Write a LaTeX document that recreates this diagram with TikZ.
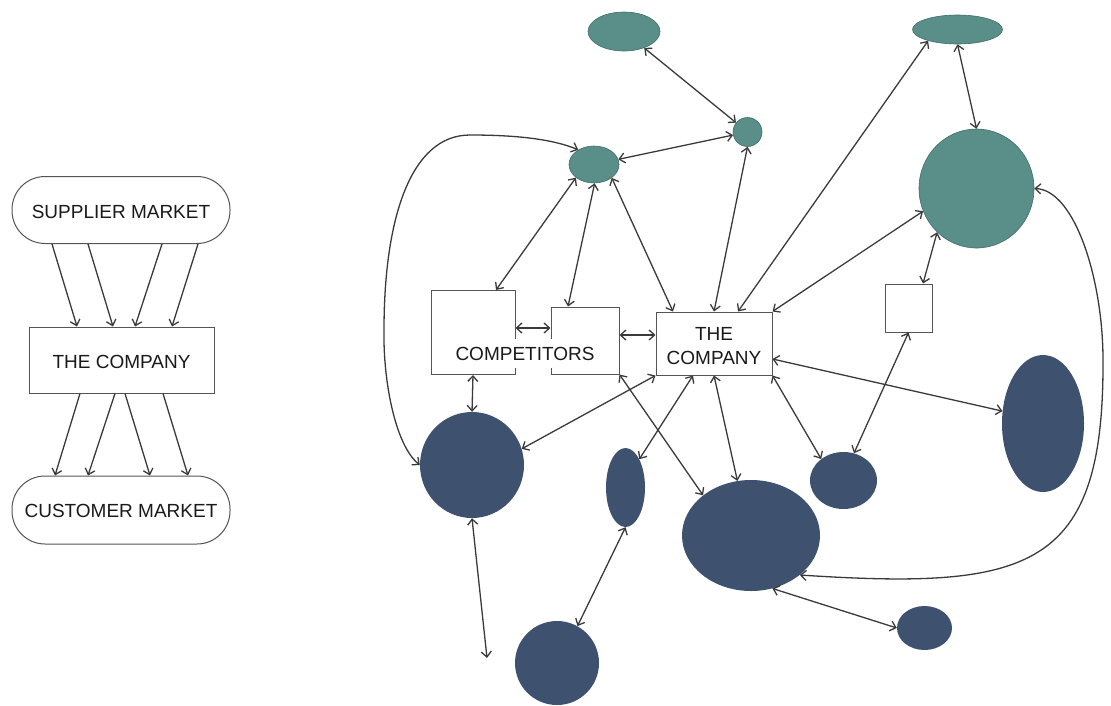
\documentclass[tikz,border=0pt]{standalone}
\usepackage{fontspec}
\setmainfont{Liberation Sans}
\usetikzlibrary{shapes.geometric,arrows.meta}
\definecolor{tealc}{HTML}{5A8E89}
\definecolor{tealb}{HTML}{3F6E69}
\definecolor{navyc}{HTML}{3E5270}
\definecolor{linec}{HTML}{3A3A3A}
\definecolor{boxc}{HTML}{555555}
\definecolor{txtc}{HTML}{1A1A1A}
\begin{document}
\begin{tikzpicture}[x=1pt,y=-1pt,
  barb/.tip={Straight Barb[length=5.5pt,width=10pt]},
  link/.style={draw=linec,line width=1.3pt,barb-barb},
  onelink/.style={draw=linec,line width=1.3pt,-barb},
  tealnode/.style={ellipse,inner sep=0pt,fill=tealc,draw=tealb,line width=0.6pt},
  navynode/.style={ellipse,inner sep=0pt,fill=navyc},
  boxnode/.style={rectangle,draw=boxc,line width=1pt,fill=white,inner sep=0pt,
    font=\fontsize{19}{24}\selectfont,text=txtc,align=center},
  pillnode/.style={boxnode,rounded corners=33pt}]
\useasboundingbox (0,0) rectangle (1111,705);

% ---------- left diagram ----------
\node[pillnode,minimum width=218pt,minimum height=67pt,text height=17pt] (sup) at (121,210) {SUPPLIER MARKET};
\node[boxnode,minimum width=185pt,minimum height=66pt,text height=17pt] (coml) at (121.5,360) {THE COMPANY};
\node[pillnode,minimum width=218pt,minimum height=68pt,text height=16pt] (cus) at (121,510) {CUSTOMER MARKET};

\draw[onelink] ([xshift=-69pt]sup.south) -- ([xshift=-44.5pt]coml.north);
\draw[onelink] ([xshift=-33pt]sup.south) -- ([xshift=-8.5pt]coml.north);
\draw[onelink] ([xshift=41pt]sup.south) -- ([xshift=13.5pt]coml.north);
\draw[onelink] ([xshift=77pt]sup.south) -- ([xshift=50.5pt]coml.north);
\draw[onelink] ([xshift=-41.5pt]coml.south) -- ([xshift=-66pt]cus.north);
\draw[onelink] ([xshift=-6.5pt]coml.south) -- ([xshift=-33pt]cus.north);
\draw[onelink] ([xshift=3.5pt]coml.south) -- ([xshift=29pt]cus.north);
\draw[onelink] ([xshift=41.5pt]coml.south) -- ([xshift=67pt]cus.north);

% ---------- right diagram: nodes ----------
\node[tealnode,minimum width=72pt,minimum height=39pt] (t1) at (624,31.5) {};
\node[tealnode,minimum width=29pt,minimum height=29pt] (t2) at (747.5,132) {};
\node[tealnode,minimum width=50pt,minimum height=37pt] (t3) at (594,164.5) {};
\node[tealnode,minimum width=90pt,minimum height=29pt] (t4) at (957.5,29.5) {};
\node[tealnode,minimum width=115pt,minimum height=119pt] (t5) at (976.5,188.5) {};

\node[boxnode,minimum width=47pt,minimum height=48pt] (sq) at (908.5,308) {};
\node[boxnode,minimum width=116pt,minimum height=63pt] (company) at (714,343.5) {\rule{0pt}{19pt}THE\\COMPANY};
\node[boxnode,minimum width=84pt,minimum height=84pt] (comp1) at (473,332.5) {};
\node[boxnode,minimum width=68pt,minimum height=67pt] (comp2) at (585,340.5) {};
\node[fill=white,inner xsep=1pt,inner ysep=8pt,font=\fontsize{19}{24}\selectfont,text=txtc] (comptext) at (525,353.5) {COMPETITORS};

\node[navynode,minimum width=104pt,minimum height=106pt] (n1) at (472,465) {};
\node[navynode,minimum width=39pt,minimum height=79pt] (n2) at (625.5,487.5) {};
\node[navynode,minimum width=138pt,minimum height=111pt] (n3) at (751,535.5) {};
\node[navynode,minimum width=84pt,minimum height=84pt] (n4) at (557,663) {};
\node[navynode,minimum width=67pt,minimum height=57pt] (n5) at (843.5,480.5) {};
\node[navynode,minimum width=82pt,minimum height=137pt] (n6) at (1043,423.5) {};
\node[navynode,minimum width=55pt,minimum height=44pt] (n7) at (924.5,628) {};
\coordinate (free) at (487,658);
\coordinate (ya) at (0,328);
\coordinate (yb) at (0,335);

% ---------- right diagram: connectors ----------
\draw[link] (t1) -- (t2);
\draw[link] (t3) -- (t2);
\draw[link] (t3.216) -- ([xshift=23pt]comp1.north);
\draw[link] (t3.272) -- ([xshift=-17pt]comp2.north);
\draw[link] (t3.323) -- ([xshift=-41pt]company.north);
\draw[link] (t2.south) -- (company.north);
\draw[link] (t4.201) -- ([xshift=24pt]company.north);
\draw[link] (t5.203) -- (company.north east);
\draw[link] (t4.south) -- (t5.north);
\draw[link] (t5.228) -- ([xshift=14.5pt]sq.north);
\draw[link] (sq.south) -- (n5.69);
\draw[link] (comp1.east |- ya) -- (comp2.west |- ya);
\draw[link] (comp2.east |- yb) -- (company.west |- yb);
\draw[link] (comp1.south) -- (n1.north);
\draw[link] (company.south west) -- (n1.18);
\draw[link] (comp2.south east) -- (n3.140);
\draw[link] ([xshift=-21pt]company.south) -- (n2.64);
\draw[link] (company.south) -- (n3.104);
\draw[link] (company.south east) -- (n5.136);
\draw[link] ([yshift=-15.5pt]company.east) -- (n6.163);
\draw[link] (n1.south) -- (free);
\draw[link] (n2.south) -- (n4.61);
\draw[link] (n3.292) -- (n7.west);
\draw[link] (n3.321) .. controls (1030,590) and (1104,570) .. (1103,360)
  .. controls (1103,280) and (1075,190) .. (t5.east);
\draw[link] (n1.180) .. controls (395,445) and (383,380) .. (384,330)
  .. controls (384,220) and (410,135) .. (470,135)
  .. controls (510,135) and (550,138) .. (t3.137);
\end{tikzpicture}
\end{document}
